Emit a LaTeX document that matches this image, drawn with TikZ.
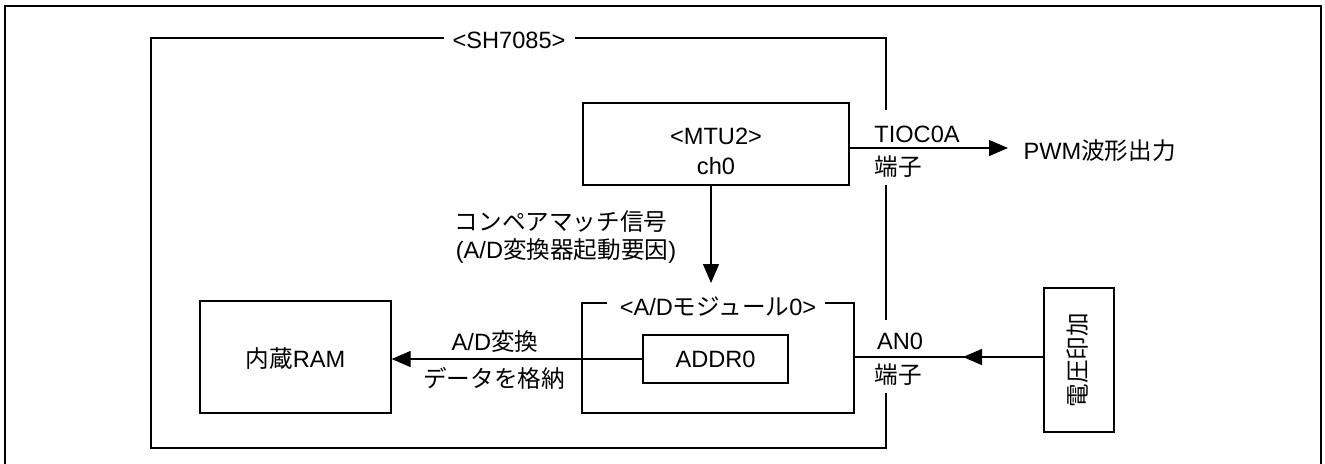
\documentclass[tikz,border=0pt]{standalone}
\usepackage{fontspec}
\setmainfont{Liberation Sans}
\newfontfamily\jp{Noto Sans CJK JP}
\usetikzlibrary{arrows.meta,calc}
\begin{document}
\begin{tikzpicture}[x=0.5pt,y=-0.5pt,line width=0.65pt,
  every node/.style={font=\fontsize{11.8}{14}\selectfont},
  box/.style={draw, inner sep=0pt},
  txt/.style={inner sep=0pt, anchor=center},
  arr/.style={-{Triangle[length=9.5pt,width=8pt]}}]
\useasboundingbox (0,0) rectangle (1325,463);
% outer frame
\draw[line width=1pt] (5,466) -- (5,6) -- (1321,6) -- (1321,466);
% SH7085 container
\node[txt] (sh) at (509,40) {<SH7085>};
\draw (444,38) -- (151,38) -- (151,448) -- (886,448) -- (886,393);
\draw (886,320) -- (886,185);
\draw (886,110) -- (886,38) -- (575,38);
% MTU2
\node[box, minimum width=133pt, minimum height=41pt] (mtu) at (716,144) {};
\node[txt] (mtut) at (716,136) {<MTU2>};
\node[txt] (mtuc) at (716,166) {ch0};
% A/D module
\node[inner sep=0pt, minimum width=136pt, minimum height=55pt] (adm) at (718,358) {};
\node[txt] (admt) at (718,307) {<A/D{\jp モジュール}0>};
\draw (607,303) -- (582,303) -- (582,413) -- (854,413) -- (854,303) -- (825,303);
% ADDR0
\node[box, minimum width=72.5pt, minimum height=24pt] (addr) at (715.5,359) {};
\node[txt] (addrt) at (715.5,359) {ADDR0};
% RAM
\node[box, minimum width=95.5pt, minimum height=56pt] (ram) at (295.5,357) {};
\node[txt] (ramt) at (295.5,359) {{\jp 内蔵}RAM};
% Voltage
\node[box, minimum width=35pt, minimum height=72pt] (volt) at (1079,360) {};
\node[txt, rotate=90] (voltt) at (1078,360) {\jp 電圧印加};
% connectors
\coordinate (adtop) at (711,283);
\draw[arr] (mtu.south -| adtop) -- (adtop);
\node[txt] (cmp1) at (561,222) {\jp コンペアマッチ信号};
\node[txt] (cmp2) at (566,251) {(A/D{\jp 変換器起動要因})};
\coordinate (pwm) at (1008,148);
\draw[arr] (mtu.east |- pwm) -- (pwm);
\node[txt, anchor=west] (pwmt) at (1023,151) {PWM{\jp 波形出力}};
\node[txt] (tio) at (917,134) {TIOC0A};
\node[txt] (tan1) at (898,167) {\jp 端子};
\draw[arr] (addr.west) -- (addr.west -| ram.east);
\node[txt] (adc1) at (495,342) {A/D{\jp 変換}};
\node[txt] (adc2) at (494,378) {\jp データを格納};
\coordinate (an0) at (963,357);
\draw (adm.east |- an0) -- (volt.west |- an0);
\draw[arr] (volt.west |- an0) -- (an0);
\node[txt] (ant) at (900,341) {AN0};
\node[txt] (tan2) at (898,375) {\jp 端子};
\end{tikzpicture}
\end{document}
